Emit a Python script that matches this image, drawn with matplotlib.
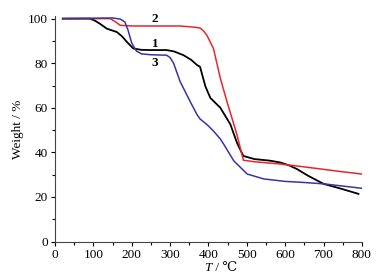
import matplotlib
matplotlib.use("Agg")
import matplotlib.pyplot as plt
from matplotlib.ticker import MultipleLocator

# sample 1 (black)
t1 = [20, 91, 105, 117, 135, 161, 175, 187, 204, 225, 248, 291, 310, 335, 355, 370, 378, 392, 405, 431, 457, 475, 491, 520, 560, 587, 610, 631, 660, 700, 750, 791]
w1 = [100, 100, 99.0, 97.7, 95.5, 94.0, 92.0, 89.6, 86.6, 86.0, 85.9, 85.9, 85.3, 83.6, 81.5, 79.2, 78.4, 69.6, 64.4, 60.0, 52.6, 44.0, 38.4, 37.0, 36.3, 35.5, 34.2, 32.5, 29.5, 25.9, 23.5, 21.4]

# sample 2 (red)
t2 = [20, 144, 158, 170, 190, 204, 260, 326, 361, 378, 387, 396, 413, 431, 448, 474, 491, 520, 587, 650, 700, 750, 800]
w2 = [100, 100, 98.5, 97.0, 96.8, 96.7, 96.7, 96.7, 96.2, 95.8, 94.5, 92.5, 86.6, 73.2, 62.9, 48.1, 36.5, 35.8, 34.8, 33.5, 32.4, 31.3, 30.3]

# sample 3 (blue)
t3 = [20, 150, 170, 182, 190, 200, 212, 225, 250, 291, 300, 309, 326, 352, 370, 378, 396, 413, 431, 440, 466, 501, 544, 600, 650, 700, 750, 800]
w3 = [100, 100.3, 99.8, 98.5, 95.0, 89.0, 85.5, 84.2, 83.8, 83.6, 82.5, 80.0, 71.8, 62.9, 57.0, 55.0, 52.5, 49.6, 46.0, 43.6, 36.2, 30.3, 28.1, 27.0, 26.5, 25.9, 24.9, 23.9]

labels = ["1", "2", "3"]
label_pos = [(261, 88.4), (261, 99.9), (261, 79.9)]

plt.rcParams["font.family"] = ["Liberation Serif", "DejaVu Serif"]
plt.rcParams["font.size"] = 9.5

fig = plt.figure(figsize=(3.85, 2.78), dpi=100)
ax = fig.add_axes([0.143, 0.131, 0.797, 0.81])

ax.plot(t1, w1, color="black", lw=1.3)
ax.plot(t2, w2, color="#e8262a", lw=1.1)
ax.plot(t3, w3, color="#3535a8", lw=1.1)

for lab, (x, y) in zip(labels, label_pos):
    ax.text(x, y, lab, fontweight="bold", fontsize=9.5, ha="center", va="center")

ax.set_xlim(0, 800)
ax.set_ylim(0, 101)
ax.xaxis.set_major_locator(MultipleLocator(100))
ax.xaxis.set_minor_locator(MultipleLocator(50))
ax.yaxis.set_major_locator(MultipleLocator(20))
ax.yaxis.set_minor_locator(MultipleLocator(10))
ax.tick_params(which="major", length=3, width=0.8, pad=2)
ax.tick_params(which="minor", length=2, width=0.8)

for side in ["top", "right"]:
    ax.spines[side].set_visible(False)
for side in ["left", "bottom"]:
    ax.spines[side].set_color("#444444")

# x label: italic T, upright rest
ax.text(0.51, -0.09, "T", style="italic", ha="right", va="top", transform=ax.transAxes)
ax.text(0.51, -0.09, " / ℃", ha="left", va="top", transform=ax.transAxes)
ax.set_ylabel("Weight / %", labelpad=3)

fig.savefig("out.png", dpi=100)
